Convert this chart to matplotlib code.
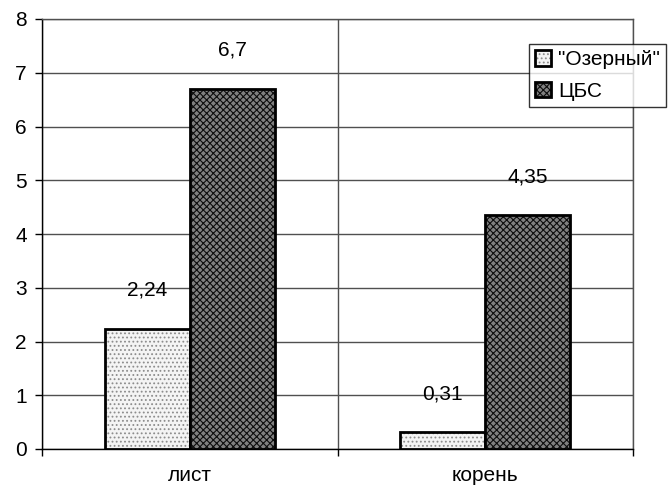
import matplotlib
matplotlib.use('Agg')
import numpy as np
import matplotlib.pyplot as plt

# данные
categories = ['лист', 'корень']
series_names = ['"Озерный"', 'ЦБС']
ozerny = [2.24, 0.31]
cbs = [6.7, 4.35]
value_labels_oz = ['2,24', '0,31']
value_labels_cbs = ['6,7', '4,35']
yticks = [0, 1, 2, 3, 4, 5, 6, 7, 8]

plt.rcParams['font.family'] = ['Liberation Sans', 'DejaVu Sans']
plt.rcParams['hatch.linewidth'] = 0.8

fig = plt.figure(figsize=(6.7, 4.91), dpi=100)
ax = fig.add_axes([42 / 670, 42 / 491, 591 / 670, 430 / 491])

x = np.arange(len(categories))
w = 0.288

b1 = ax.bar(x - w / 2, ozerny, w, facecolor='#f4f4f4', edgecolor='black',
            linewidth=2, hatch='....', label=series_names[0], zorder=3)
b2 = ax.bar(x + w / 2, cbs, w, facecolor='#808080', edgecolor='black',
            linewidth=2, hatch='xxxxx', label=series_names[1], zorder=3)
for b in b1:
    b._hatch_color = (0.55, 0.55, 0.55, 1)
for b in b2:
    b._hatch_color = (0.05, 0.05, 0.05, 1)

for xi, v, t in zip(x - w / 2, ozerny, value_labels_oz):
    ax.annotate(t, (xi, v), xytext=(0, 21), textcoords='offset points',
                ha='center', va='bottom', fontsize=15)
for xi, v, t in zip(x + w / 2, cbs, value_labels_cbs):
    ax.annotate(t, (xi, v), xytext=(0, 21), textcoords='offset points',
                ha='center', va='bottom', fontsize=15)

ax.set_ylim(0, 8)
ax.set_xlim(-0.5, 1.5)
ax.set_yticks(yticks)
ax.set_yticklabels([str(t) for t in yticks], fontsize=15)
ax.tick_params(axis='y', length=5, width=1, pad=6)

# категории: подписи по центру, засечки между категориями
ax.set_xticks([-0.5, 0.5, 1.5])
ax.set_xticklabels([])
ax.set_xticks(x, minor=True)
ax.set_xticklabels(categories, minor=True, fontsize=15)
ax.tick_params(axis='x', which='major', length=5, width=1)
ax.tick_params(axis='x', which='minor', length=0, pad=12)

ax.grid(True, which='major', color='#505050', linewidth=1, zorder=0)
for s in ['top', 'right']:
    ax.spines[s].set_color('#505050')
    ax.spines[s].set_linewidth(1)
for s in ['left', 'bottom']:
    ax.spines[s].set_color('black')
    ax.spines[s].set_linewidth(1)

leg = ax.legend(loc='upper left', bbox_to_anchor=(529 / 670, 1 - 44 / 491),
                bbox_transform=fig.transFigure, fontsize=15, frameon=True,
                fancybox=False, edgecolor='black', handlelength=0.75,
                handleheight=0.75, handletextpad=0.35, borderpad=0.3,
                labelspacing=0.6, borderaxespad=0)
leg.get_frame().set_linewidth(1)

fig.savefig('out.png', dpi=100)
